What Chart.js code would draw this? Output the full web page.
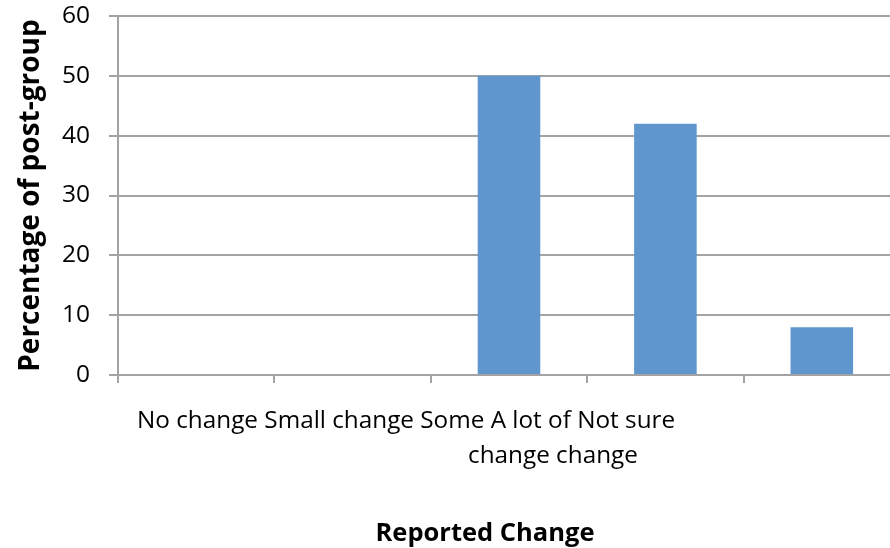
<!DOCTYPE html>
<html lang="en">
<head>
    <meta charset="UTF-8">
    <title>Reported Change</title>
    <script src="https://cdn.jsdelivr.net/npm/chart.js"></script>
    <style>
        html, body { margin: 0; padding: 0; background: #fff; overflow: hidden; }
        #reportChart { display: block; }
    </style>
</head>
<body>
<canvas id="reportChart" width="905" height="548"></canvas>

<script>
    // Categories and percentages
    const categories = ['No change', 'Small change', 'Some change', 'A lot of change', 'Not sure'];
    const percentages = [0, 0, 50, 42, 8];
    const yTicks = [0, 10, 20, 30, 40, 50, 60];
    // Category labels as they wrap under the axis
    const labelRows = ['No change Small change Some A lot of Not sure', 'change change'];
    const xTitle = 'Reported Change';
    const yTitle = 'Percentage of post-group';

    const gridGray = '#a3a3a3';
    const textFont = '"Open Sans", sans-serif';

    // Draws the wrapped category labels and the x axis title
    const bottomText = {
        id: 'bottomText',
        afterDraw(chart) {
            const ctx = chart.ctx;
            const area = chart.chartArea;
            ctx.save();
            ctx.fillStyle = '#000';
            ctx.textBaseline = 'alphabetic';
            ctx.textAlign = 'left';
            ctx.font = '24.3px ' + textFont;
            ctx.fillText(labelRows[0], area.left + 19, 428);
            ctx.fillText(labelRows[1], area.left + 350, 463);
            ctx.textAlign = 'center';
            ctx.font = 'bold 25.5px ' + textFont;
            ctx.fillText(xTitle, 485, 541);
            ctx.restore();
        }
    };

    const chart = new Chart(document.getElementById('reportChart'), {
        type: 'bar',
        data: {
            labels: categories,
            datasets: [{
                data: percentages,
                backgroundColor: '#5f96cd',
                borderWidth: 0,
                barPercentage: 0.4,
                categoryPercentage: 1
            }]
        },
        options: {
            responsive: false,
            animation: false,
            layout: { padding: { top: 16, right: 5, left: 0, bottom: 0 } },
            plugins: {
                legend: { display: false },
                tooltip: { enabled: false }
            },
            scales: {
                x: {
                    grid: {
                        offset: true,
                        drawOnChartArea: false,
                        color: gridGray,
                        lineWidth: 2,
                        tickLength: 8
                    },
                    border: { color: gridGray, width: 2 },
                    ticks: { display: false },
                    afterFit(scale) { scale.height = 548 - 375; }
                },
                y: {
                    min: 0,
                    max: 60,
                    afterBuildTicks(scale) {
                        scale.ticks = yTicks.map(v => ({ value: v }));
                    },
                    grid: {
                        color: gridGray,
                        lineWidth: 2,
                        tickLength: 9
                    },
                    border: { color: gridGray, width: 2 },
                    ticks: {
                        color: '#000',
                        padding: 19,
                        font: { family: textFont, size: 24.5 }
                    },
                    title: {
                        display: true,
                        text: yTitle,
                        color: '#000',
                        padding: { top: 14, bottom: 0 },
                        font: { family: textFont, size: 28, weight: 'bold' }
                    },
                    afterFit(scale) {
                        scale.width = 118;
                        // the tick padding should only push labels sideways
                        scale.paddingTop = 0;
                        scale.paddingBottom = 0;
                    }
                }
            }
        },
        plugins: [bottomText]
    });
</script>
</body>
</html>
